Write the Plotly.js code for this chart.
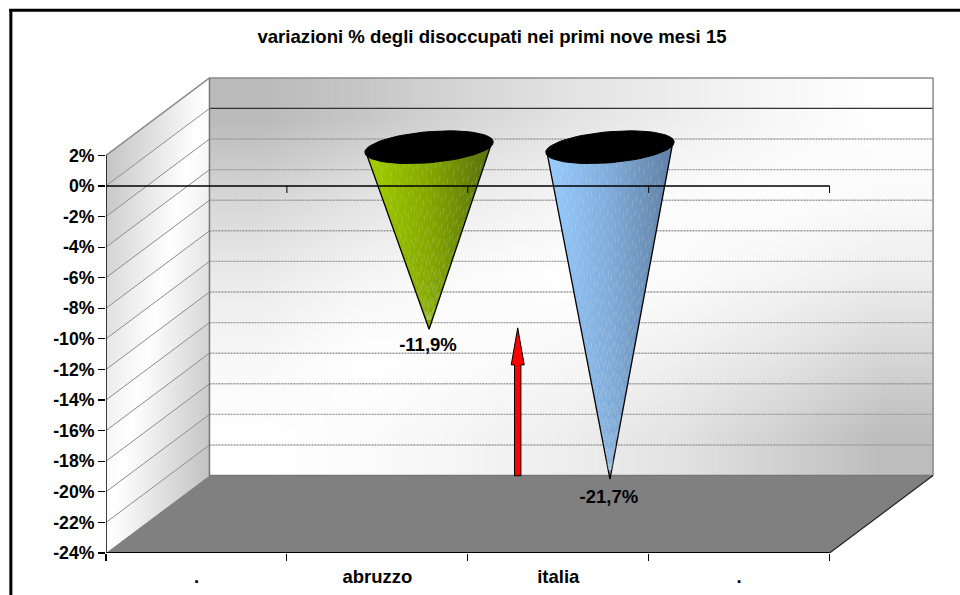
<!DOCTYPE html>
<html><head><meta charset="utf-8">
<script src="https://cdn.plot.ly/plotly-3.0.1.min.js"></script>
<style>html,body{margin:0;padding:0;background:#fff;overflow:hidden}</style></head>
<body><div id="chart" style="width:960px;height:595px"></div>
<script>
// ---- data ----
const categories = ['.', 'abruzzo', 'italia', '.'];
const categoryPos = [0.5, 1.5, 2.5, 3.5];
const categoryEdges = [0, 1, 2, 3, 4];
const coneCategories = [1.5, 2.5];
const coneValues = [-11.9, -21.7];
const coneLabels = ['-11,9%', '-21,7%'];
const coneLabelGap = [0.55, 0.68];
const yTicks = [-24,-22,-20,-18,-16,-14,-12,-10,-8,-6,-4,-2,0,2];
const yTickText = yTicks.map(v => v + '%');
const arrowX = 2.276, arrowBase = -18.95, arrowHead = -11.7, arrowTip = -9.28;
const titleText = 'variazioni % degli disoccupati nei primi nove mesi 15';

// ---- pseudo-3D geometry in axis units ----
const depthX = 0.572, depthY = 5.065;      // full depth of the box
const yTop = 12.157;
const pxX = 181, pxY = 15.3;               // pixels per axis unit
const FONT = '"Liberation Sans", Arial, sans-serif';
const ln = (x, y, color, width, dash) => ({x, y, mode:'lines', type:'scatter', hoverinfo:'skip',
  showlegend:false, cliponaxis:false, line:{color, width, dash:dash||'solid'}});
const poly = (x, y, extra) => Object.assign({x, y, mode:'lines', type:'scatter', fill:'toself',
  hoverinfo:'skip', showlegend:false, cliponaxis:false, line:{width:0}}, extra);

const traces = [];
// back wall shading (bottom row first)
const wallShade = [
 [1.00,.985,.96,.93,.89,.82,.74],
 [.97,1.00,.99,.97,.94,.90,.84],
 [.92,.96,.985,1,.985,.96,.93],
 [.84,.89,.93,.96,.985,.995,.98],
 [.73,.78,.84,.89,.93,.97,1.00]];
const cw = 4/7, ch = 26/5;
traces.push({type:'heatmap', z:wallShade, x0:depthX+cw/2, dx:cw, y0:-24+depthY+ch/2, dy:ch,
  zmin:0, zmax:1, zsmooth:'best', showscale:false, hoverinfo:'skip',
  colorscale:[[0,'#000'],[1,'#fff']]});
// left wall, band by band: [left grey, right grey, white position]
const sideShade = [
 ['#ffffff','#c2c2c2',0.05],['#ffffff','#c6c6c6',0.1],['#fbfbfb','#cacaca',0.18],
 ['#f6f6f6','#cecece',0.25],['#f1f1f1','#d2d2d2',0.32],['#ececec','#d8d8d8',0.4],
 ['#e6e6e6','#dedede',0.48],['#e0e0e0','#e4e4e4',0.55],['#dadada','#eaeaea',0.62],
 ['#d4d4d4','#f0f0f0',0.7],['#cecece','#f6f6f6',0.78],['#c8c8c8','#fbfbfb',0.86],
 ['#c4c4c4','#ffffff',0.95]];
for (let i=0;i<yTicks.length-1;i++){
  const a=yTicks[i], b=yTicks[i+1], s=sideShade[i];
  traces.push(poly([0,depthX,depthX,0,0],[a,a+depthY,b+depthY,b,a],
   {fillgradient:{type:'horizontal',colorscale:[[0,s[0]],[s[2],'#ffffff'],[1,s[1]]]}}));
}
// floor
traces.push(poly([0,4,4+depthX,depthX,0],[-24,-24,-24+depthY,-24+depthY,-24],{fillcolor:'#808080'}));
// grid lines
yTicks.forEach(v=>{
  if(v===-24) return;
  traces.push(ln([0,depthX],[v,v+depthY],'#8c8c8c',1));
  if(v===2) return;
  if(v===0) traces.push(ln([depthX,4+depthX],[v+depthY,v+depthY],'#333333',1.3));
  else traces.push(ln([depthX,4+depthX],[v+depthY,v+depthY],'#999999',1.4,'2px,1px'));
});
// box outline
traces.push(ln([0,depthX,4+depthX,4+depthX],[2,2+depthY,2+depthY,-24+depthY],'#8c8c8c',1.5));
traces.push(ln([depthX,depthX,4+depthX],[2+depthY,-24+depthY,-24+depthY],'#777777',1.5));
traces.push(ln([4,4+depthX],[-24,-24+depthY],'#222222',1.2));
// cones
const coneFills = [
 [[0,'#a2cf00'],[0.5,'#84a800'],[0.85,'#64800a'],[1,'#586f10']],
 [[0,'#99ccff'],[0.5,'#80acd9'],[0.85,'#6a8db3'],[1,'#6080a6']]];
const rimA = 64.5, rimB = 15.5, rimTilt = 0.085, rimEnd = 63, rimDrop = 5.5;
const sheen = [-.92,-.84,-.76,-.68,-.6,-.52,-.44,-.36,-.28,-.2,-.12,-.04,.04,.12,.2,.28,.36,.44,.52,.6,.68,.76,.84,.92];
const sheenShift = [0,.41,.17,.63,.29,.53,.08];
coneValues.forEach((v,i)=>{
  const cx = coneCategories[i]+depthX/2, cy = depthY/2, tip = v+cy;
  traces.push(poly([cx-rimEnd/pxX,cx,cx+rimEnd/pxX,cx-rimEnd/pxX],
    [cy-rimDrop/pxY,tip,cy+rimDrop/pxY,cy-rimDrop/pxY],
    {fillgradient:{type:'horizontal',colorscale:coneFills[i]},line:{color:'#000',width:1.3}}));
  // pale facet streaks running to the tip
  const sx=[],sy=[];
  sheen.forEach((f,j)=>{sx.push(cx+f*(rimEnd-6)/pxX,cx+f*2/pxX,null);sy.push(cy-0.9-sheenShift[j%7],tip+0.6,null);});
  traces.push(ln(sx,sy,'rgba(255,255,255,0.2)',0.8,'6px,9px'));
  const ex=[], ey=[];
  for(let k=0;k<=72;k++){
    const t=k/72*2*Math.PI;
    const px=rimA*Math.cos(t), py=rimB*Math.sin(t);
    ex.push(cx+(px*Math.cos(rimTilt)-py*Math.sin(rimTilt))/pxX);
    ey.push(cy+(px*Math.sin(rimTilt)+py*Math.cos(rimTilt))/pxY);
  }
  traces.push(poly(ex,ey,{fillcolor:'#000',line:{color:'#000',width:1}}));
});
// zero axis line and its ticks
traces.push(ln([0,4],[0,0],'#000000',1.5));
const tx=[],ty=[];
categoryEdges.slice(1).forEach(e=>{tx.push(e,e,null);ty.push(0,-0.46,null);});
traces.push(ln(tx,ty,'#000000',1));
// main axis lines
traces.push(ln([0,0],[-24,2],'#000000',1.5));
traces.push(ln([0,4],[-24,-24],'#000000',1.8));
// arrow
const aw=3.2/pxX, ah=6.5/pxX;
traces.push(poly([arrowX-aw,arrowX-aw,arrowX-ah,arrowX,arrowX+ah,arrowX+aw,arrowX+aw,arrowX-aw],
 [arrowBase,arrowHead,arrowHead,arrowTip,arrowHead,arrowHead,arrowBase,arrowBase],
 {fillcolor:'#ff0000',line:{color:'#000',width:1}}));
// value labels
traces.push({type:'scatter',mode:'text',hoverinfo:'skip',showlegend:false,cliponaxis:false,
 x:coneCategories.map(c=>c+depthX/2-0.006), y:coneValues.map((v,i)=>v+depthY/2-coneLabelGap[i]),
 text:coneLabels.map(t=>'<b>'+t+'</b>'), textposition:'bottom center',
 textfont:{family:FONT,size:18.5,color:'#000'}});

const frameX = (10.3-105.5)/854.5;
const layout = {
 width:960,height:595,paper_bgcolor:'#fff',plot_bgcolor:'rgba(0,0,0,0)',showlegend:false,
 margin:{l:105.5,r:0,t:0,b:42},
 title:{text:'<b>'+titleText+'</b>',x:492/960,xanchor:'center',xref:'container',y:0.938,yanchor:'middle',yref:'container',
   font:{family:FONT,size:18.6,color:'#000'}},
 xaxis:{range:[0,854.5/pxX],showgrid:false,zeroline:false,showline:false,fixedrange:true,
   tickmode:'array',tickvals:categoryPos,ticktext:categories.map(c=>'<b>'+c+'</b>'),ticks:'',
   ticklabelstandoff:10,tickfont:{family:FONT,size:18.5,color:'#000'},
   minor:{tickmode:'array',tickvals:categoryEdges,ticks:'outside',ticklen:7,tickwidth:1.2,tickcolor:'#000',showgrid:false}},
 yaxis:{range:[-24,yTop],showgrid:false,zeroline:false,showline:false,fixedrange:true,
   tickmode:'array',tickvals:yTicks,ticktext:yTickText.map(t=>'<b>'+t+'</b>'),ticks:'outside',ticklen:7,tickwidth:1.2,tickcolor:'#000',
   tickfont:{family:FONT,size:17.7,color:'#000'}},
 shapes:[
  {type:'line',xref:'paper',yref:'paper',x0:frameX-0.002,x1:1,y0:(553-10.3)/553,y1:(553-10.3)/553,layer:'above',line:{color:'#000',width:3}},
  {type:'line',xref:'paper',yref:'paper',x0:frameX,x1:frameX,y0:(553-9)/553,y1:-42/553,layer:'above',line:{color:'#000',width:3}}
 ]
};
Plotly.newPlot('chart',traces,layout,{displayModeBar:false,staticPlot:true});
</script></body></html>
